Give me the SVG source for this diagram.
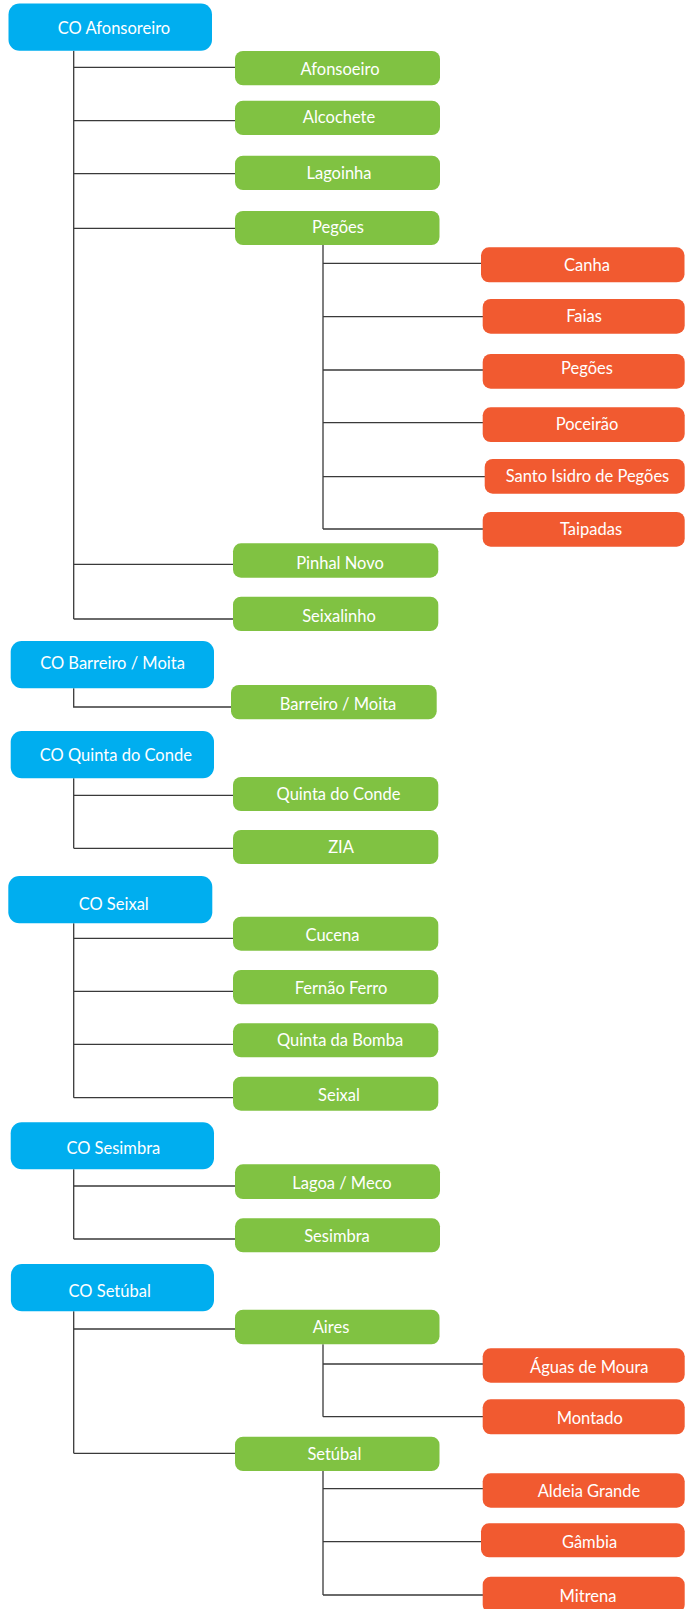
<svg xmlns="http://www.w3.org/2000/svg" width="685" height="1609" viewBox="0 0 685 1609">
<style>
.b{fill:#00AEEF}
.g{fill:#80C242}
.o{fill:#F15A30}
text{font-family:Lato,"Open Sans","Liberation Sans",sans-serif;font-size:16.5px;fill:#fff;text-anchor:middle}
.c path{fill:none;stroke:#3a3a3a;stroke-width:1.3}
</style>
<rect width="685" height="1609" fill="#fff"/>
<g class="c" id="connectors">
<path d="M73.7 50.7V619M73.7 67.3H235M73.7 120.7H235M73.7 173.7H235M73.7 228.3H235M73.7 564.3H233M73.7 619H233"/>
<path d="M323 245V529M323 263.3H481M323 316.7H483M323 370H483M323 422.7H483M323 476.7H485M323 529H483"/>
<path d="M73.7 688.3V707H231"/>
<path d="M73.7 778.3V848.3M73.7 795.3H233M73.7 848.3H233"/>
<path d="M73.7 923.3V1097.7M73.7 938.3H233M73.7 991.3H233M73.7 1044.3H233M73.7 1097.7H233"/>
<path d="M73.7 1169.3V1239M73.7 1186H235M73.7 1239H235"/>
<path d="M73.7 1311.3V1453.3M73.7 1329H235M73.7 1453.3H235"/>
<path d="M323 1344.3V1416.7M323 1364H483M323 1416.7H483"/>
<path d="M323 1471V1595M323 1488.7H483M323 1541.7H481M323 1595H483"/>
</g>
<g id="co-afonsoreiro"><rect class="b" x="8.5" y="3.5" width="203.5" height="47.2" rx="11"/><text x="114" y="34">CO Afonsoreiro</text></g>
<g id="afonsoeiro"><rect class="g" x="235" y="51" width="205" height="34.3" rx="8"/><text x="340" y="74.7">Afonsoeiro</text></g>
<g id="alcochete"><rect class="g" x="235" y="100.7" width="205" height="34.3" rx="8"/><text x="339" y="123.3">Alcochete</text></g>
<g id="lagoinha"><rect class="g" x="235" y="155.7" width="205" height="34.3" rx="8"/><text x="339" y="178.5">Lagoinha</text></g>
<g id="pegoes"><rect class="g" x="235" y="211" width="204.5" height="34" rx="8"/><text x="338" y="233.3">Pegões</text></g>
<g id="canha"><rect class="o" x="481" y="247.3" width="203.5" height="35" rx="8"/><text x="587" y="271">Canha</text></g>
<g id="faias"><rect class="o" x="482.7" y="299" width="202" height="34.7" rx="8"/><text x="584" y="321.7">Faias</text></g>
<g id="pegoes-2"><rect class="o" x="482.7" y="354" width="202" height="34.7" rx="8"/><text x="587" y="373.5">Pegões</text></g>
<g id="poceirao"><rect class="o" x="482.7" y="407.3" width="202" height="34.7" rx="8"/><text x="587" y="430">Poceirão</text></g>
<g id="santo-isidro"><rect class="o" x="484.7" y="459" width="200" height="34.7" rx="8"/><text x="587.5" y="482.3">Santo Isidro de Pegões</text></g>
<g id="taipadas"><rect class="o" x="482.7" y="512" width="202" height="34.7" rx="8"/><text x="591" y="535">Taipadas</text></g>
<g id="pinhal-novo"><rect class="g" x="233" y="543.3" width="205.3" height="34.4" rx="8"/><text x="340" y="569.3">Pinhal Novo</text></g>
<g id="seixalinho"><rect class="g" x="233" y="596.7" width="205.3" height="34.3" rx="8"/><text x="339" y="622.3">Seixalinho</text></g>
<g id="co-barreiro-moita"><rect class="b" x="10.7" y="641" width="203.3" height="47.3" rx="11"/><text x="112.5" y="669.3">CO Barreiro / Moita</text></g>
<g id="barreiro-moita"><rect class="g" x="231" y="685" width="205.7" height="34.3" rx="8"/><text x="338" y="710">Barreiro / Moita</text></g>
<g id="co-quinta-do-conde"><rect class="b" x="10.7" y="731" width="203.3" height="47.3" rx="11"/><text x="115.8" y="761">CO Quinta do Conde</text></g>
<g id="quinta-do-conde"><rect class="g" x="233" y="777" width="205.3" height="34" rx="8"/><text x="338.5" y="800">Quinta do Conde</text></g>
<g id="zia"><rect class="g" x="233" y="830" width="205.3" height="34" rx="8"/><text x="341" y="853">ZIA</text></g>
<g id="co-seixal"><rect class="b" x="8.3" y="876" width="204" height="47.3" rx="11"/><text x="113.7" y="910">CO Seixal</text></g>
<g id="cucena"><rect class="g" x="233" y="916.7" width="205.3" height="34" rx="8"/><text x="332.5" y="941">Cucena</text></g>
<g id="fernao-ferro"><rect class="g" x="233" y="970" width="205.3" height="34.3" rx="8"/><text x="341" y="994">Fernão Ferro</text></g>
<g id="quinta-da-bomba"><rect class="g" x="233" y="1023.3" width="205.3" height="34" rx="8"/><text x="340" y="1045.5">Quinta da Bomba</text></g>
<g id="seixal"><rect class="g" x="233" y="1076.7" width="205.3" height="34" rx="8"/><text x="339" y="1100.7">Seixal</text></g>
<g id="co-sesimbra"><rect class="b" x="10.7" y="1122.3" width="203.3" height="47" rx="11"/><text x="113.3" y="1154.3">CO Sesimbra</text></g>
<g id="lagoa-meco"><rect class="g" x="235" y="1164.3" width="205" height="34.7" rx="8"/><text x="342" y="1189">Lagoa / Meco</text></g>
<g id="sesimbra"><rect class="g" x="235" y="1218.3" width="205" height="34" rx="8"/><text x="337" y="1241.7">Sesimbra</text></g>
<g id="co-setubal"><rect class="b" x="10.9" y="1264" width="203.1" height="47.3" rx="11"/><text x="109.7" y="1297.3">CO Setúbal</text></g>
<g id="aires"><rect class="g" x="235" y="1309.7" width="204.5" height="34.6" rx="8"/><text x="331" y="1332.7">Aires</text></g>
<g id="aguas-de-moura"><rect class="o" x="482.7" y="1348.3" width="202" height="34.4" rx="8"/><text x="589.3" y="1373.3">Águas de Moura</text></g>
<g id="montado"><rect class="o" x="482.7" y="1399.3" width="202" height="35" rx="8"/><text x="589.8" y="1424">Montado</text></g>
<g id="setubal"><rect class="g" x="235" y="1436.7" width="204.5" height="34.3" rx="8"/><text x="334.4" y="1460">Setúbal</text></g>
<g id="aldeia-grande"><rect class="o" x="482.7" y="1473.3" width="202" height="34.4" rx="8"/><text x="589" y="1496.7">Aldeia Grande</text></g>
<g id="gambia"><rect class="o" x="481" y="1523.3" width="203.7" height="34" rx="8"/><text x="589.5" y="1547.7">Gâmbia</text></g>
<g id="mitrena"><rect class="o" x="482.7" y="1576.7" width="202" height="36" rx="8"/><text x="588" y="1601.7">Mitrena</text></g>
</svg>
